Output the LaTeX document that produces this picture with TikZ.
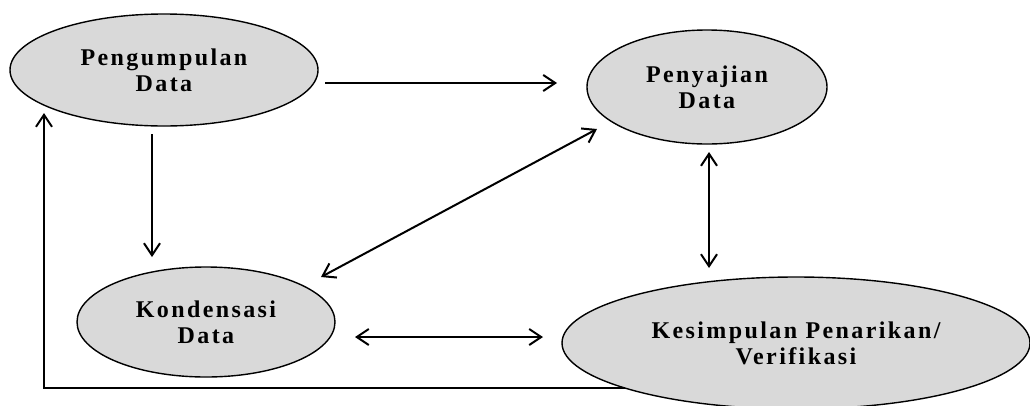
\documentclass[tikz,border=0pt]{standalone}
\usepackage{fontspec}
\newfontfamily\tebal{Liberation Serif}[LetterSpace=10]
\usepackage{tikz}
\usetikzlibrary{arrows.meta,
shapes.geometric,
backgrounds
}
\definecolor{abu}{HTML}{D9D9D9}
\tikzset{>={Straight Barb[length=12pt,width=16pt]}}

\begin{document}
\begin{tikzpicture}[x=1pt, y=-1pt,
    alur/.style={line width=2pt},
    proses/.style={ellipse, draw, line width=1.4pt, fill=abu, inner sep=0pt,
        align=center, font=\tebal\bfseries\fontsize{24}{26}\selectfont}]
            \useasboundingbox (0,0) rectangle (1030,405);

            %ellipses
            \node[proses, minimum width=308pt, minimum height=112pt] (peng) at (164,70) {Pengumpulan\\Data};
            \node[proses, minimum width=240pt, minimum height=114pt] (peny) at (707,87) {Penyajian\\Data};
            \node[proses, minimum width=258pt, minimum height=110pt] (kond) at (206,322) {Kondensasi\\Data};
            \node[proses, minimum width=468pt, minimum height=132pt] (kes) at (796,343) {Kesimpulan Penarikan/\\Verifikasi};

            %pengumpulan -> penyajian
            \draw[alur, ->] ([shift={(161,13)}]peng.center) -- ([shift={(-150,-4)}]peny.center);

            %pengumpulan -> kondensasi
            \draw[alur, ->] ([shift={(-12,64)}]peng.center) -- ([shift={(-54,-65)}]kond.center);

            %kondensasi <-> penyajian
            \draw[alur, <->] ([shift={(115,-45)}]kond.center) -- ([shift={(-110,42)}]peny.center);

            %penyajian <-> kesimpulan
            \draw[alur, <->] ([shift={(2,65)}]peny.center) -- ([shift={(-87,-75)}]kes.center);

            %kondensasi <-> kesimpulan
            \draw[alur, <->] ([shift={(149,15)}]kond.center) -- ([shift={(-253,-6)}]kes.center);

            %kesimpulan -> pengumpulan
            \begin{scope}[on background layer]
                \draw[alur, ->] ([shift={(-100,45)}]kes.center) -| ([shift={(-120,43)}]peng.center);
            \end{scope}

\end{tikzpicture}
\end{document}
